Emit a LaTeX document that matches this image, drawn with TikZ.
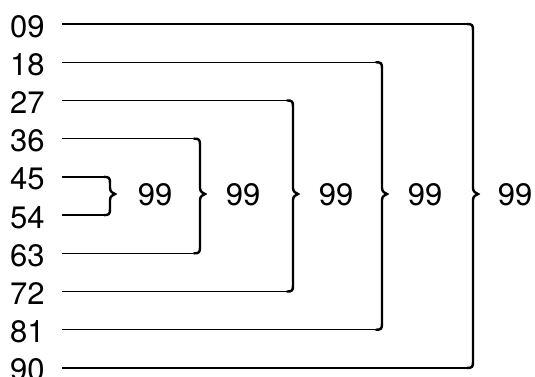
\documentclass[tikz,border=0pt]{standalone}
\usepackage{fontspec}
\setmainfont{TeX Gyre Heros}
\usetikzlibrary{calc}
\begin{document}
\begin{tikzpicture}[x=1pt,y=1pt,
  lbl/.style={anchor=base west,inner sep=0pt,font=\fontsize{31}{31}\selectfont},
  sumlbl/.style={anchor=base,inner sep=0pt,font=\fontsize{31}{31}\selectfont},
  hline/.style={line width=1.4pt},
  bracestyle/.style={line width=2.4pt,line cap=round}]
\useasboundingbox (0,-376) rectangle (535,0);
% left labels and line starts
\foreach \lab [count=\i from 0] in {09,18,27,36,45,54,63,72,81,90}{
  \pgfmathsetmacro\ry{-(24+38.22*\i)}
  \node[lbl] (L\i) at (10,\ry-13) {\lab};
  \coordinate (S\i) at (62,\ry);
}
% braces
\foreach \x/\cx [count=\i from 0] in {473/515,382/425,293/336,200/243,110/155}{
  \pgfmathtruncatemacro\j{9-\i}
  \pgfmathsetmacro\t{-(24+38.22*\i)}
  \pgfmathsetmacro\b{-(24+38.22*\j)}
  \pgfmathsetmacro\m{-194}
  \coordinate (T\i) at (\x-6,\t);
  \coordinate (B\i) at (\x-6,\b);
  \draw[hline] (S\i) -- (T\i);
  \draw[hline] (S\j) -- (B\i);
  \draw[bracestyle] (T\i) .. controls ($(T\i)+(5,0)$) and ($(T\i)+(6,-1)$) .. ($(T\i)+(6,-6)$)
     -- (\x,\m+6) .. controls (\x,\m+2) and (\x+3,\m+1) .. (\x+5,\m)
     .. controls (\x+3,\m-1) and (\x,\m-2) .. (\x,\m-6)
     -- ($(B\i)+(6,6)$) .. controls ($(B\i)+(6,1)$) and ($(B\i)+(5,0)$) .. (B\i);
  \node[sumlbl] (R\i) at (\cx,-205) {99};
}
\end{tikzpicture}
\end{document}
